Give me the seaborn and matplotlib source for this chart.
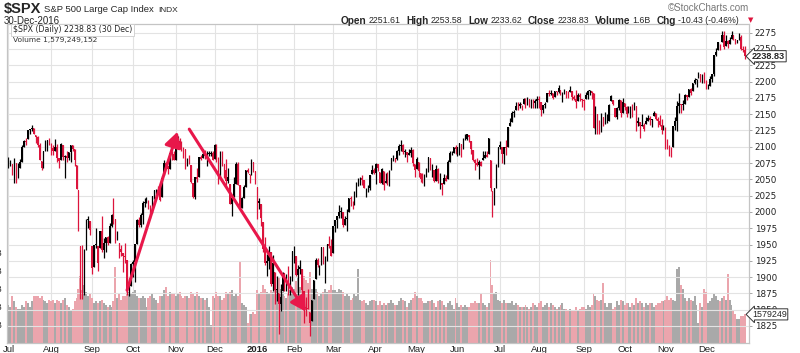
import numpy as np
import pandas as pd
import matplotlib.pyplot as plt
import seaborn as sns

# x axis: trading days Jul 2015 .. Dec 2016, one label per month
month_labels = ["Jul", "Aug", "Sep", "Oct", "Nov", "Dec", "2016", "Feb", "Mar", "Apr", "May", "Jun",
                "Jul", "Aug", "Sep", "Oct", "Nov", "Dec"]
month_len = [22, 21, 21, 22, 20, 22, 19, 20, 22, 21, 21, 22, 20, 23, 21, 21, 21, 21]

prev_close = 2063.1  # close before the first bar

# daily close / high / low, one row per month
close = [
    2077, 2077, 2068, 2081, 2047, 2052, 2077, 2100, 2109, 2107, 2125, 2127, 2128, 2119, 2115, 2102, 2080, 2068, 2093, 2109, 2109, 2104,
    2098, 2093, 2100, 2083, 2078, 2104, 2084, 2086, 2083, 2092, 2102, 2097, 2079, 2035, 1971, 1893, 1868, 1940, 1988, 1989, 1972,
    1914, 1949, 1951, 1921, 1970, 1942, 1952, 1961, 1953, 1979, 1996, 1990, 1958, 1967, 1943, 1938, 1932, 1931, 1882, 1884, 1920,
    1923, 1951, 1987, 1980, 1995, 2014, 2015, 2017, 2004, 1994, 2024, 2033, 2033, 2031, 2019, 2052, 2075, 2071, 2066, 2090, 2089, 2079,
    2104, 2109, 2102, 2100, 2099, 2079, 2081, 2076, 2046, 2023, 2053, 2051, 2084, 2081, 2089, 2086, 2089, 2089, 2090, 2080,
    2103, 2080, 2050, 2092, 2077, 2064, 2047, 2053, 2012, 2022, 2043, 2073, 2041, 2006, 2021, 2038, 2064, 2061, 2056, 2078, 2063, 2044,
    2013, 2016, 1990, 1943, 1922, 1924, 1939, 1890, 1922, 1880, 1881, 1859, 1869, 1907, 1878, 1903, 1883, 1893, 1940,
    1940, 1903, 1913, 1915, 1880, 1854, 1852, 1851, 1829, 1865, 1896, 1927, 1918, 1918, 1946, 1922, 1929, 1951, 1948, 1932,
    1978, 1987, 1994, 2000, 2002, 1980, 1989, 1990, 2022, 2020, 2016, 2027, 2041, 2050, 2052, 2049, 2036, 2036, 2037, 2056, 2064, 2060,
    2073, 2067, 2045, 2066, 2042, 2048, 2042, 2062, 2082, 2082, 2081, 2094, 2101, 2102, 2092, 2092, 2088, 2091, 2095, 2075, 2065,
    2081, 2063, 2051, 2050, 2057, 2059, 2084, 2064, 2064, 2047, 2066, 2047, 2048, 2041, 2052, 2048, 2076, 2090, 2090, 2099, 2097,
    2100, 2105, 2099, 2110, 2112, 2119, 2115, 2096, 2079, 2075, 2072, 2077, 2071, 2083, 2088, 2085, 2113, 2037, 2001, 2036, 2071, 2099,
    2103, 2089, 2100, 2098, 2130, 2137, 2152, 2152, 2163, 2162, 2166, 2164, 2174, 2165, 2175, 2168, 2169, 2167, 2170, 2174,
    2171, 2157, 2164, 2165, 2183, 2181, 2182, 2175, 2186, 2184, 2190, 2179, 2182, 2187, 2184, 2182, 2187, 2176, 2173, 2169, 2180, 2176, 2171,
    2170, 2180, 2186, 2186, 2182, 2128, 2160, 2127, 2125, 2148, 2139, 2139, 2140, 2164, 2178, 2165, 2146, 2160, 2171, 2151, 2168,
    2161, 2150, 2160, 2160, 2153, 2164, 2136, 2139, 2132, 2133, 2127, 2140, 2144, 2141, 2141, 2151, 2143, 2139, 2133, 2126, 2126,
    2111, 2097, 2088, 2085, 2132, 2140, 2163, 2167, 2164, 2165, 2180, 2177, 2188, 2182, 2198, 2203, 2204, 2213, 2202, 2205, 2199,
    2191, 2192, 2204, 2212, 2241, 2246, 2260, 2257, 2272, 2253, 2262, 2258, 2263, 2271, 2265, 2261, 2264, 2268, 2250, 2249, 2238.83,
]
high = [
    2085, 2080, 2074, 2083, 2075, 2075, 2081, 2102, 2111, 2114, 2125, 2127, 2133, 2129, 2118, 2117, 2106, 2078, 2094, 2110, 2111, 2114,
    2105, 2102, 2112, 2104, 2082, 2105, 2103, 2087, 2093, 2092, 2102, 2103, 2096, 2072, 2034, 1948, 1949, 1943, 1989, 1993, 1986,
    1948, 1949, 1975, 1947, 1970, 1993, 1960, 1962, 1963, 1983, 1997, 2021, 1989, 1971, 1953, 1949, 1937, 1953, 1927, 1899, 1921,
    1927, 1951, 1989, 1992, 1999, 2017, 2021, 2023, 2018, 2010, 2024, 2033, 2035, 2039, 2038, 2055, 2080, 2076, 2071, 2090, 2093, 2094,
    2106, 2116, 2114, 2109, 2100, 2097, 2083, 2087, 2072, 2045, 2053, 2067, 2085, 2087, 2097, 2095, 2094, 2093, 2094, 2094,
    2104, 2104, 2085, 2093, 2093, 2073, 2081, 2067, 2043, 2023, 2054, 2076, 2076, 2041, 2023, 2042, 2064, 2067, 2058, 2081, 2077, 2063,
    2038, 2021, 2012, 1985, 1961, 1936, 1947, 1938, 1934, 1908, 1901, 1876, 1889, 1908, 1906, 1905, 1917, 1902, 1940,
    1947, 1932, 1918, 1927, 1913, 1878, 1869, 1881, 1846, 1865, 1896, 1930, 1930, 1918, 1946, 1946, 1933, 1951, 1963, 1959,
    1978, 1987, 1994, 2010, 2007, 2000, 1993, 2005, 2022, 2025, 2016, 2032, 2046, 2052, 2053, 2056, 2049, 2037, 2042, 2056, 2072, 2067,
    2075, 2074, 2061, 2067, 2063, 2060, 2062, 2065, 2083, 2087, 2083, 2095, 2104, 2111, 2104, 2096, 2092, 2096, 2099, 2097, 2074,
    2084, 2076, 2060, 2060, 2058, 2068, 2084, 2083, 2073, 2064, 2072, 2067, 2060, 2044, 2058, 2056, 2079, 2094, 2093, 2099, 2103,
    2100, 2105, 2104, 2114, 2120, 2120, 2118, 2109, 2095, 2081, 2083, 2079, 2078, 2094, 2093, 2094, 2113, 2079, 2032, 2036, 2074, 2099,
    2109, 2100, 2100, 2110, 2131, 2144, 2155, 2156, 2169, 2169, 2169, 2164, 2175, 2175, 2176, 2173, 2174, 2174, 2173, 2178,
    2178, 2169, 2164, 2168, 2183, 2187, 2187, 2183, 2186, 2186, 2194, 2187, 2184, 2188, 2186, 2185, 2193, 2186, 2179, 2187, 2183, 2183, 2174,
    2173, 2184, 2187, 2187, 2185, 2182, 2163, 2150, 2141, 2151, 2146, 2154, 2150, 2165, 2179, 2172, 2159, 2161, 2173, 2172, 2175,
    2167, 2162, 2163, 2162, 2165, 2169, 2162, 2145, 2138, 2150, 2136, 2145, 2149, 2147, 2142, 2155, 2152, 2146, 2148, 2142, 2133,
    2131, 2112, 2102, 2100, 2132, 2146, 2170, 2182, 2165, 2172, 2181, 2180, 2189, 2190, 2198, 2205, 2204, 2214, 2211, 2211, 2214,
    2203, 2197, 2209, 2212, 2241, 2251, 2260, 2258, 2278, 2277, 2272, 2263, 2268, 2277, 2272, 2266, 2264, 2274, 2272, 2255, 2254,
]
low = [
    2067, 2071, 2056, 2044, 2045, 2052, 2067, 2077, 2099, 2102, 2112, 2119, 2124, 2119, 2105, 2100, 2079, 2064, 2067, 2094, 2094, 2102,
    2088, 2088, 2094, 2077, 2067, 2079, 2080, 2052, 2076, 2079, 2077, 2094, 2070, 2035, 1971, 1867, 1867, 1872, 1942, 1975, 1965,
    1904, 1915, 1944, 1909, 1944, 1938, 1930, 1939, 1949, 1953, 1977, 1981, 1953, 1957, 1929, 1933, 1908, 1922, 1872, 1871, 1887,
    1900, 1893, 1951, 1977, 1977, 1981, 2007, 2013, 2004, 1990, 1999, 2020, 2024, 2027, 2017, 2023, 2057, 2067, 2058, 2066, 2080, 2079,
    2080, 2097, 2097, 2093, 2082, 2066, 2070, 2074, 2045, 2022, 2020, 2046, 2053, 2079, 2082, 2081, 2070, 2086, 2086, 2080,
    2081, 2077, 2043, 2051, 2070, 2052, 2041, 2045, 2012, 1993, 2023, 2043, 2041, 2006, 2006, 2021, 2038, 2059, 2045, 2057, 2061, 2043,
    1989, 2005, 1979, 1938, 1918, 1901, 1912, 1886, 1878, 1858, 1864, 1812, 1848, 1878, 1878, 1878, 1873, 1873, 1894,
    1921, 1902, 1872, 1904, 1873, 1829, 1840, 1851, 1810, 1833, 1866, 1897, 1915, 1903, 1919, 1920, 1891, 1925, 1944, 1932,
    1937, 1969, 1975, 1990, 1990, 1977, 1980, 1970, 2000, 2009, 2005, 2010, 2023, 2040, 2042, 2041, 2036, 2023, 2031, 2033, 2058, 2058,
    2043, 2063, 2044, 2043, 2034, 2044, 2042, 2039, 2064, 2078, 2077, 2079, 2088, 2094, 2089, 2084, 2077, 2087, 2085, 2071, 2054,
    2066, 2054, 2046, 2045, 2039, 2054, 2061, 2064, 2053, 2046, 2047, 2045, 2035, 2026, 2043, 2047, 2050, 2077, 2087, 2090, 2089,
    2086, 2088, 2085, 2097, 2110, 2111, 2107, 2089, 2078, 2065, 2070, 2051, 2070, 2080, 2083, 2085, 2089, 2032, 1992, 2011, 2036, 2069,
    2097, 2075, 2074, 2088, 2100, 2132, 2138, 2146, 2157, 2157, 2159, 2157, 2165, 2159, 2164, 2161, 2160, 2159, 2159, 2159,
    2160, 2147, 2152, 2159, 2168, 2178, 2179, 2173, 2176, 2180, 2183, 2179, 2168, 2181, 2175, 2175, 2184, 2171, 2172, 2160, 2170, 2170, 2161,
    2157, 2173, 2173, 2180, 2173, 2128, 2119, 2120, 2119, 2123, 2132, 2135, 2137, 2139, 2170, 2164, 2145, 2142, 2157, 2145, 2151,
    2156, 2145, 2151, 2144, 2145, 2156, 2124, 2132, 2114, 2132, 2124, 2135, 2140, 2133, 2131, 2147, 2141, 2131, 2132, 2120, 2125,
    2097, 2097, 2086, 2084, 2100, 2125, 2124, 2152, 2152, 2156, 2166, 2172, 2176, 2180, 2186, 2196, 2192, 2206, 2200, 2198, 2198,
    2188, 2188, 2193, 2200, 2208, 2239, 2249, 2249, 2260, 2250, 2254, 2251, 2257, 2265, 2263, 2257, 2259, 2264, 2249, 2245, 2234,
]
# daily volume in billions
volume = [
    2.1, 2.0, 2.6, 2.3, 2.0, 1.9, 1.9, 2.1, 2.0, 2.3, 2.2, 2.0, 2.3, 2.6, 2.6, 2.6, 2.5, 2.6, 2.4, 2.3, 2.2, 2.4,
    2.3, 2.4, 2.2, 2.4, 2.3, 2.2, 2.4, 2.5, 2.1, 2.0, 1.8, 1.9, 2.3, 2.5, 3.0, 3.7, 2.9, 3.2, 2.8, 2.6, 2.7,
    2.5, 2.2, 2.3, 2.2, 2.3, 2.4, 2.2, 2.1, 2.0, 2.1, 2.0, 2.3, 4.2, 2.5, 2.7, 2.4, 2.6, 2.6, 2.9, 2.8, 2.7,
    2.8, 2.9, 2.6, 2.5, 2.5, 2.6, 2.5, 2.0, 2.5, 2.6, 2.7, 2.5, 2.4, 2.2, 2.6, 2.6, 2.9, 3.1, 2.6, 2.8, 2.7, 2.7,
    2.6, 2.7, 2.8, 2.6, 2.5, 2.6, 2.6, 2.5, 2.8, 2.7, 2.6, 2.8, 2.6, 2.5, 2.5, 2.4, 2.5, 2.0, 1.0, 2.6,
    2.5, 2.8, 2.6, 2.6, 2.4, 2.5, 2.8, 2.7, 2.8, 2.9, 2.6, 2.7, 2.6, 4.5, 2.2, 2.1, 2.0, 1.1, 1.6, 1.6, 1.7, 1.6,
    2.9, 2.7, 2.8, 3.2, 3.0, 2.8, 2.7, 2.9, 2.8, 3.3, 3.0, 3.6, 3.0, 2.8, 2.6, 2.5, 2.7, 2.9, 3.1,
    3.0, 3.4, 3.6, 3.1, 3.3, 3.7, 3.5, 3.3, 3.9, 3.0, 3.1, 3.0, 2.8, 2.6, 2.7, 2.8, 3.0, 2.8, 2.9, 3.2,
    2.9, 2.9, 2.8, 3.0, 2.9, 2.8, 2.6, 2.7, 2.6, 2.4, 2.5, 2.7, 2.6, 4.1, 2.4, 2.3, 2.4, 2.2, 2.1, 2.3, 2.4, 2.4,
    2.3, 2.1, 2.3, 2.1, 2.2, 2.1, 2.2, 2.2, 2.4, 2.2, 2.1, 2.1, 2.3, 2.5, 2.4, 2.3, 2.0, 2.2, 2.4, 2.5, 2.8,
    2.6, 2.5, 2.5, 2.3, 2.2, 2.2, 2.3, 2.3, 2.4, 2.2, 2.0, 2.3, 2.4, 2.3, 2.1, 2.0, 2.2, 2.3, 2.1, 1.9, 2.5,
    2.2, 2.0, 2.1, 2.0, 2.1, 2.0, 2.0, 2.2, 2.2, 2.3, 2.2, 2.2, 2.7, 2.2, 2.1, 2.0, 2.2, 4.6, 3.2, 2.7, 2.8, 2.4,
    2.3, 2.2, 2.4, 2.2, 2.2, 2.2, 2.3, 2.1, 2.2, 2.1, 2.0, 2.0, 2.0, 2.1, 2.0, 1.9, 2.0, 2.2, 2.1, 2.0,
    2.2, 2.3, 2.0, 2.1, 2.2, 2.0, 2.2, 2.1, 2.0, 1.9, 2.0, 2.1, 2.2, 1.9, 1.9, 1.8, 1.9, 1.8, 1.8, 2.0, 1.8, 1.9, 2.0,
    2.0, 1.9, 2.1, 2.0, 2.1, 2.7, 2.6, 2.4, 2.3, 2.4, 3.3, 2.2, 2.0, 2.2, 2.2, 1.9, 2.0, 2.3, 2.1, 2.4, 2.3,
    2.1, 2.2, 2.2, 2.0, 2.2, 2.1, 2.5, 2.2, 2.3, 2.2, 2.0, 2.2, 2.1, 2.2, 2.2, 2.0, 2.1, 2.2, 2.2, 2.3, 2.3,
    2.4, 2.6, 2.4, 2.5, 2.4, 2.3, 4.1, 4.2, 3.2, 3.0, 2.5, 2.3, 2.5, 2.4, 2.3, 2.6, 2.1, 1.1, 2.2, 2.0, 3.0,
    2.8, 2.2, 2.3, 2.5, 2.7, 2.6, 2.4, 2.3, 2.5, 2.6, 2.4, 3.8, 2.4, 2.1, 1.8, 1.6, 1.3, 1.3, 1.5, 1.5, 1.58,
]
assert len(close) == len(high) == len(low) == len(volume) == sum(month_len)

# hand drawn trend arrows: (from day, from price, to day, to price)
arrows = [(61, 1880, 87, 2123), (93, 2127, 153, 1847)]

price_ticks = list(range(1825, 2276, 25))
vol_ticks = [1, 2, 3, 4, 5]

# header texts
symbol = "\\$SPX"
name = "S&P 500 Large Cap Index"
exchange = "INDX"
date_str = "30-Dec-2016"
quote = [("Open", "2251.61"), ("High", "2253.58"), ("Low", "2233.62"), ("Close", "2238.83"),
         ("Volume", "1.6B"), ("Chg", "-10.43 (-0.46%)")]
legend_price = "\\$SPX (Daily) 2238.83 (30 Dec)"
legend_vol = "Volume 1,579,249,152"
last_price = 2238.83
last_vol = 1.579249152
last_vol_txt = "1579249"

RED = "#dc143c"
ARROW = "#e8174a"
GRID = "#e3e3e3"

sns.set_style("white")
plt.rcParams["font.family"] = ["Liberation Sans", "DejaVu Sans"]

W, H = 800, 353
fig = plt.figure(figsize=(W / 100, H / 100), dpi=100)
ax_v = fig.add_axes([7 / W, 10 / H, 742 / W, 319 / H])
ax_p = ax_v.twinx()

n = len(close)
days = np.arange(n)
c = np.array(close, dtype=float)
hi = np.array(high, dtype=float)
lo = np.array(low, dtype=float)
prev = np.r_[prev_close, c[:-1]]
o = np.clip(prev, lo, hi)
up = c >= prev
cols = np.where(up, "#000000", RED)

# volume bars behind the candles
df = pd.DataFrame({"day": days, "vol": volume, "dir": np.where(up, "up", "down")})
sns.barplot(data=df, x="day", y="vol", hue="dir", palette={"up": "#a9a9a9", "down": "#eba5ad"},
            native_scale=True, dodge=False, width=1.0, saturation=1, linewidth=0,
            errorbar=None, legend=False, ax=ax_v)
for p in ax_v.patches:
    p.set_antialiased(False)

# candles
ax_p.vlines(days, lo, hi, colors=cols, lw=0.9)
ax_p.bar(days, np.maximum(np.abs(c - o), 0.8), bottom=np.minimum(c, o), width=0.75, color=cols, linewidth=0)

for x0, y0, x1, y1 in arrows:
    ax_p.annotate("", xy=(x1, y1), xytext=(x0, y0),
                  arrowprops=dict(arrowstyle="-|>,head_length=0.45,head_width=0.25", color=ARROW,
                                  lw=2.2, shrinkA=0, shrinkB=0, mutation_scale=20))

ax_v.set_xlim(-0.77, 381.0)
ax_v.set_ylim(0, 17.6)
ax_p.set_ylim(1798.9, 2288.3)

month_start = np.r_[0, np.cumsum(month_len)[:-1]]
ax_v.set_xticks(month_start)
ax_v.set_xticklabels(month_labels)
ax_v.tick_params(axis="x", length=0, pad=1.5, labelsize=6.8, labelcolor="#222222")
for lab in ax_v.get_xticklabels():
    if lab.get_text() == "2016":
        lab.set_fontweight("bold")
ax_v.set_yticks(vol_ticks)
ax_v.set_yticklabels([f"{v}B" for v in vol_ticks])
ax_v.tick_params(axis="y", length=0, pad=3.2, labelsize=6.3, labelcolor="#222222")
ax_v.set_xlabel("")
ax_v.set_ylabel("")
ax_v.grid(axis="x", color=GRID, lw=0.8)
ax_v.set_axisbelow(True)

ax_p.set_yticks(price_ticks)
ax_p.tick_params(axis="y", length=2, width=0.6, color="#999999", pad=2, labelsize=6.3,
                 labelcolor="#222222", labelfontfamily="Liberation Sans Narrow")
ax_p.grid(axis="y", color=GRID, lw=0.8)
ax_p.set_axisbelow(True)

for a in (ax_v, ax_p):
    for s in a.spines.values():
        s.set_color("#c4c4c4")
        s.set_linewidth(0.8)

# value tags on the right edge
fig.text(1.004, last_price, f"{last_price:.2f}", transform=ax_p.get_yaxis_transform(),
         ha="left", va="center", fontsize=6.6, fontweight="bold",
         bbox=dict(boxstyle="larrow,pad=0.12", fc="white", ec="#333333", lw=0.7))
fig.text(1.004, last_vol, last_vol_txt, transform=ax_v.get_yaxis_transform(),
         ha="left", va="center", fontsize=6.4,
         bbox=dict(boxstyle="larrow,pad=0.12", fc="white", ec="#333333", lw=0.7))

# header
renderer = fig.canvas.get_renderer()


def fy(py):
    return 1 - py / H


def put(x, y, s, **kw):
    t = fig.text(x / W, fy(y), s, va="center", ha="left", **kw)
    return t, t.get_window_extent(renderer).width


t, w = put(4, 9, symbol, fontsize=10.5, fontweight="bold")
t, w2 = put(4 + w + 3, 9.5, name, fontsize=6.8)
put(4 + w + 3 + w2 + 4, 10, exchange, fontsize=6.0)
put(4, 20.5, date_str, fontsize=7.0)
fig.text(749 / W, fy(8), "\u00a9StockCharts.com", ha="right", va="center", fontsize=7.0, color="#777777")

# quote row, laid out from the right edge
pieces = []
for label, val in quote:
    pieces.append((label, "bold", 7.2, 2.5))
    pieces.append((val, "normal", 6.3, 5.5))
widths = []
for s, wt, fs, gap in pieces:
    tt = fig.text(0, 0, s, fontsize=fs, fontweight=wt)
    widths.append(tt.get_window_extent(renderer).width)
    tt.remove()
arrow_w = 7
total = sum(widths) + sum(p[3] for p in pieces[:-1]) + 3 + arrow_w
x = 749 - total
for (s, wt, fs, gap), w in zip(pieces, widths):
    put(x, 20.5, s, fontsize=fs, fontweight=wt)
    x += w + gap
put(x + 3, 20.5, "\u25bc", fontsize=5.0, color=RED, family=["DejaVu Sans"])

# legend inside the chart
fig.text(13 / W, fy(30), legend_price, ha="left", va="center", fontsize=5.7, family=["DejaVu Sans"],
         bbox=dict(boxstyle="square,pad=0.2", fc="white", ec="#cccccc", lw=0.6))
fig.text(13 / W, fy(40), legend_vol, ha="left", va="center", fontsize=5.4, family=["DejaVu Sans"],
         color="#333333")

fig.savefig("out.png", dpi=100)
